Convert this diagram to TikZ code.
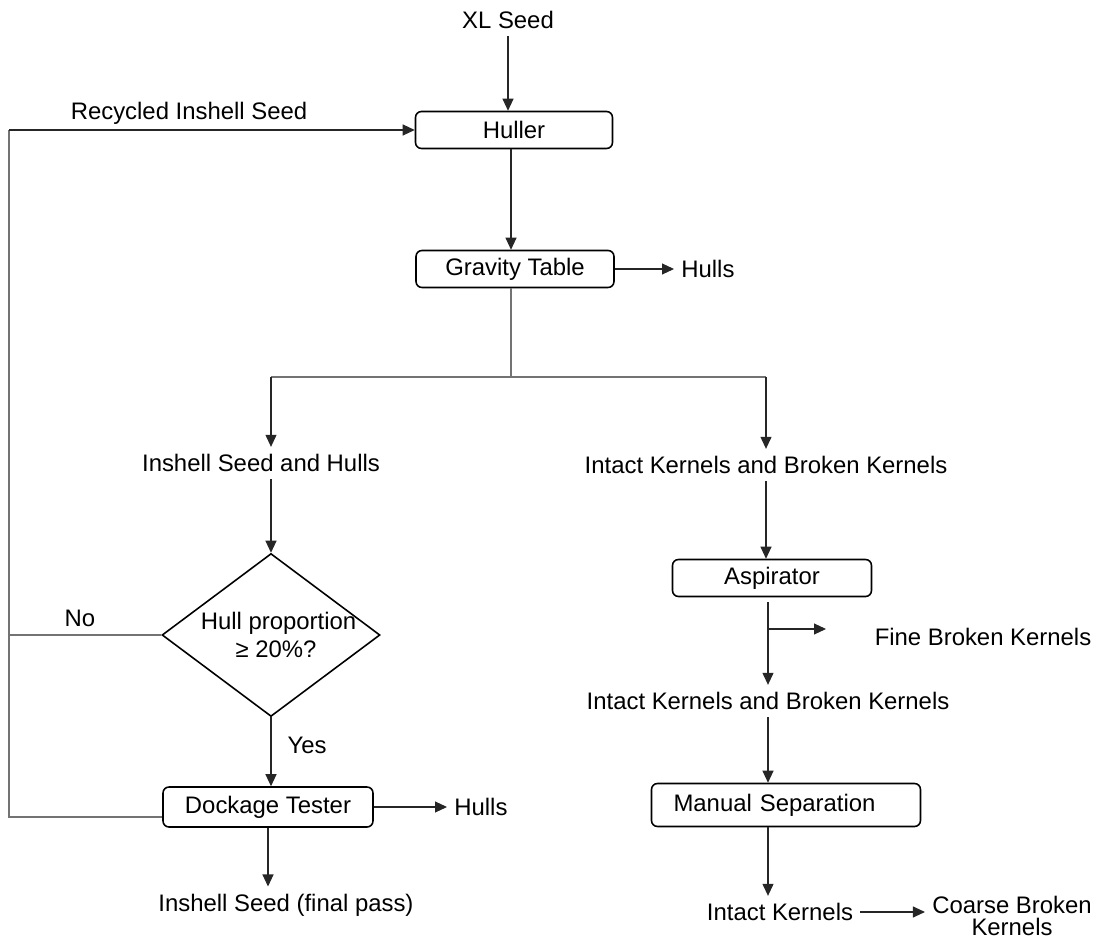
\documentclass[tikz,border=0pt]{standalone}
\usepackage{fontspec}
\setmainfont{Liberation Sans}
\usetikzlibrary{arrows.meta,shapes.geometric,positioning,calc}

\begin{document}
\begin{tikzpicture}[x=0.02cm,y=-0.02cm]

  \tikzstyle{every node}=[font=\fontsize{13.6}{16}\selectfont,inner sep=4pt]
  \tikzstyle{every edge}=[draw=black!85,-{Triangle[length=0.24cm,width=0.22cm]},line width=0.6pt]
  \tikzstyle{box}=[draw,rounded corners=0.12cm,line width=0.9pt]
  \tikzstyle{line}=[draw=black!55,line width=0.7pt]

  \useasboundingbox (0,0) rectangle (1099,942);

  % left column
  \node (T1) at (508,20) {XL Seed};
  \node[box, minimum width=3.94cm, minimum height=0.74cm] (B1) at (514,130) {Huller};
  \node[box, minimum width=3.96cm, minimum height=0.74cm] (B2) at (515,269) {Gravity Table};
  \node[anchor=west] (T2) at (674,269) {Hulls};
  \node (T3) at (261,463) {Inshell Seed and Hulls};
  \node[diamond, draw, line width=0.9pt, inner sep=-3pt, aspect=1.34,
        minimum width=4.36cm, minimum height=3.26cm, align=center] (D1) at (271,635)
        {\hspace*{0.3cm}Hull proportion\\ \hspace*{0.2cm}≥ 20\%?};
  \node (L1) at (80,618) {No};
  \node (L2) at (307,745) {Yes};
  \node[box, minimum width=4.2cm, minimum height=0.8cm] (B3) at (268,807) {Dockage Tester};
  \node[anchor=west] (T5) at (447,807) {Hulls};
  \node (T6) at (286,905) {Inshell Seed (final pass)};
  \node (L3) at (189,113) {Recycled Inshell Seed};

  % right column
  \node (T4) at (766,465) {Intact Kernels and Broken Kernels};
  \node[box, minimum width=3.98cm, minimum height=0.74cm] (B4) at (772,578) {Aspirator};
  \node (T7) at (983,637) {Fine Broken Kernels};
  \node (T8) at (768,701) {Intact Kernels and Broken Kernels};
  \node[box, minimum width=5.38cm, minimum height=0.86cm, text width=4.5cm,
        inner xsep=0.42cm, align=left] (B5) at (786,805) {Manual Separation};
  \node (T9) at (780,912) {Intact Kernels};
  \node[align=center] (T10) at (1012,916) {Coarse Broken\\[-3pt]Kernels};

  \coordinate (C1) at (511,377);
  \coordinate (C2) at (271,377);
  \coordinate (C3) at (766,377);
  \coordinate (C4) at (768,629);
  \coordinate (C5) at (826,629);
  \coordinate (R1) at (9,817);
  \coordinate (R2) at (9,130);

  \path (T1) edge (T1 |- B1.north);
  \path (B1.south -| C1) edge (B2.north -| C1);
  \path (B2) edge (T2);

  \draw[line] (B2.south -| C1) -- (C1);
  \draw[line] (C2) -- (C3);
  \path (C2) edge (C2 |- T3.north);
  \path (C3) edge (C3 |- T4.north);

  \path (D1.north |- T3.south) edge (D1.north);
  \path (D1.south) edge (D1.south |- B3.north);
  \path (B3) edge (T5);
  \path (B3) edge (B3 |- T6.north);

  \draw[line] (D1.west) -- (D1.west -| R1);
  \draw[line] (B3.west |- R1) -- (R1) -- (R2);
  \path (R2) edge (B1.west);

  \path (T4) edge (T4 |- B4.north);
  \path[shorten <=0.1cm] (C4 |- B4.south) edge (C4 |- T8.north);
  \path (C4) edge (C5);
  \path (T8) edge (T8 |- B5.north);
  \path (T8 |- B5.south) edge (T8 |- T9.north);
  \path (T9) edge (T9 -| T10.west);

\end{tikzpicture}
\end{document}
